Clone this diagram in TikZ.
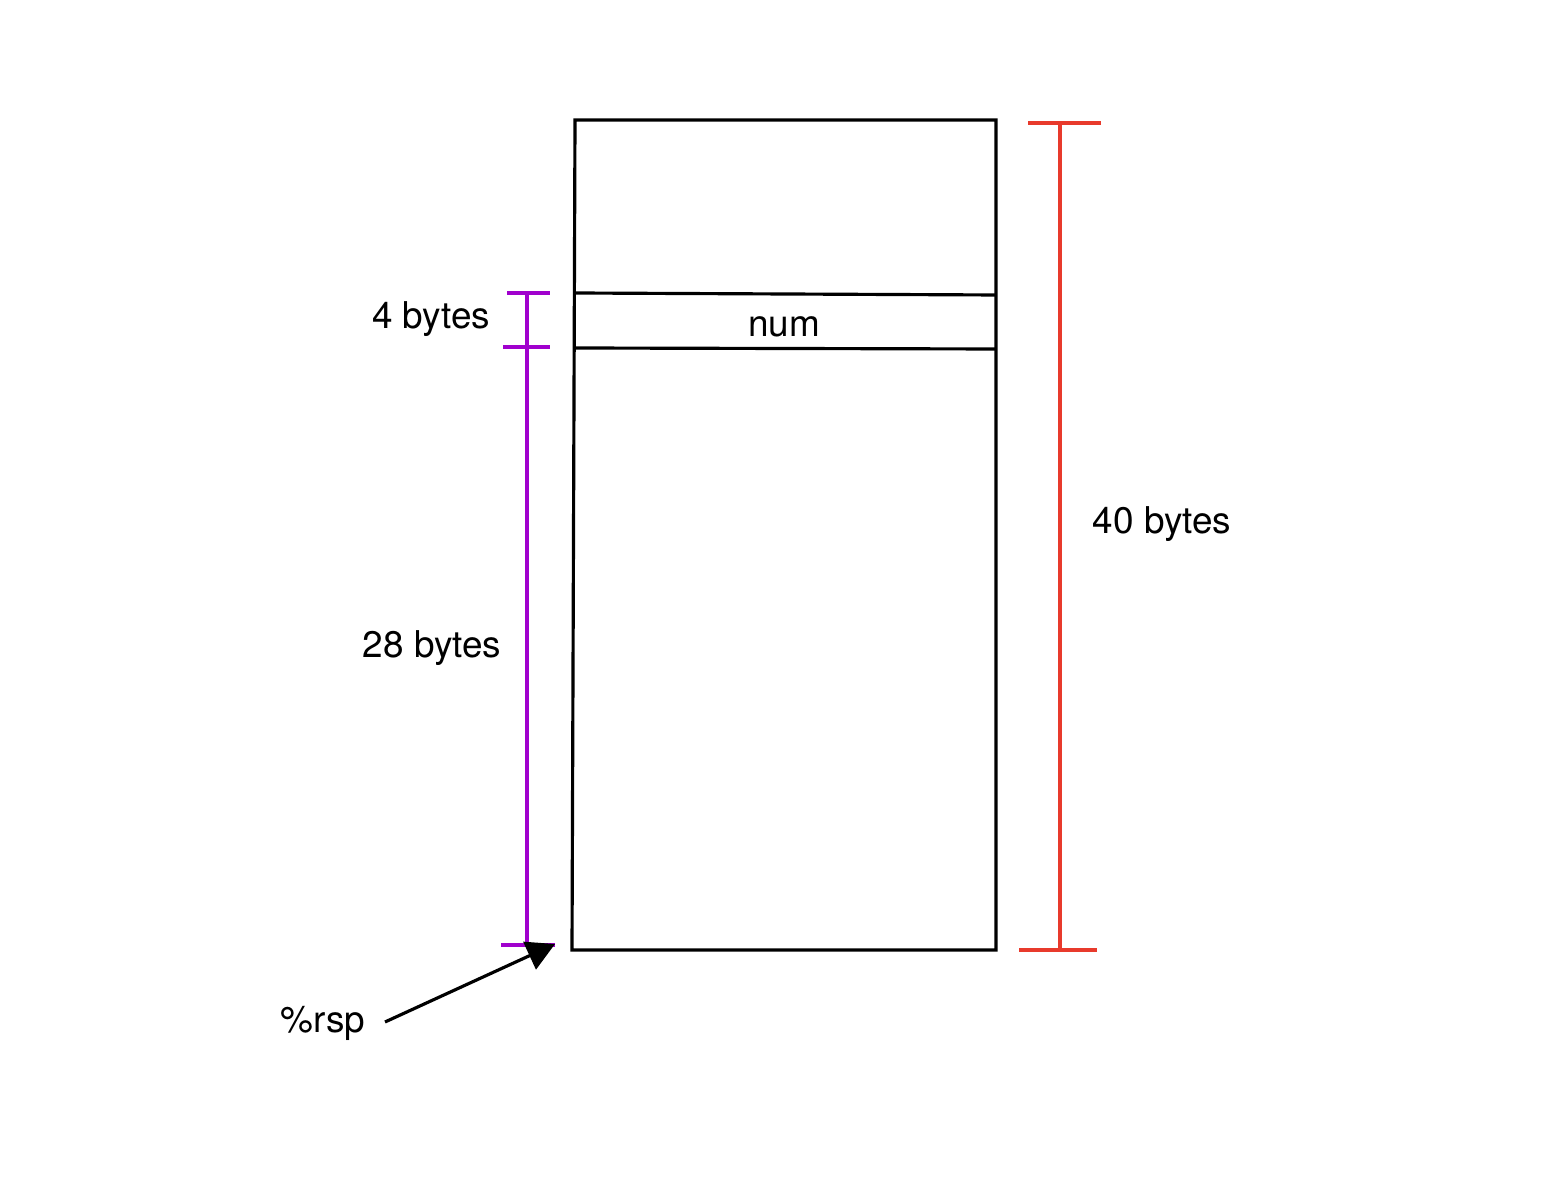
\documentclass[tikz,border=0pt]{standalone}
\usepackage{fontspec}
\setmainfont{TeX Gyre Heros}
\usetikzlibrary{arrows.meta}
\definecolor{sizepurple}{RGB}{160,0,205}
\definecolor{sizered}{RGB}{232,58,44}
\tikzset{
  stackline/.style={line width=0.9pt, black},
  purplebar/.style={line width=1.05pt, sizepurple},
  redbar/.style={line width=1.05pt, sizered},
  sizelabel/.style={font=\fontsize{10.5}{12}\selectfont, inner sep=0pt}
}
\begin{document}
\begin{tikzpicture}[x=0.01cm,y=-0.01cm]
	\useasboundingbox (0,0) rectangle (1560,1198);
	%%%%% frame %%%%%
	\coordinate (tl) at (575,120);
	\coordinate (tr) at (996,120);
	\coordinate (br) at (996,950);
	\coordinate (bl) at (572,950);
	\draw[stackline] (tl) -- (tr) -- (br) -- (bl) -- cycle;
	
	\coordinate (numtl) at (575,293);
	\coordinate (numtr) at (996,295);
	\coordinate (numbl) at (575,348);
	\coordinate (numbr) at (996,349);
	\draw[stackline] (numtl) -- (numtr);
	\draw[stackline] (numbl) -- (numbr);
	\node[sizelabel] (num) at (784,327) {num};
	
	%%%%% purple sizes %%%%%
	\draw[purplebar] (527,293) -- (527,945);
	\draw[purplebar] (507,293) -- (550,293);
	\draw[purplebar] (503,347) -- (550,347);
	\draw[purplebar] (501,945) -- (555,945);
	\node[sizelabel] (four) at (431,319) {4 bytes};
	\node[sizelabel] (twentyeight) at (432,648) {28 bytes};
	
	%%%%% red size %%%%%
	\draw[redbar] (1060,123) -- (1060,950);
	\draw[redbar] (1028,123) -- (1101,123);
	\draw[redbar] (1019,950) -- (1097,950);
	\node[sizelabel] (forty) at (1162,524) {40 bytes};
	
	%%%%% stack pointer %%%%%
	\node[sizelabel] (rsp) at (323,1023) {\%rsp};
	\coordinate (rsptail) at (385,1022);
	\coordinate (rsptip) at (555,944);
	\draw[stackline, -{Triangle[length=0.28cm,width=0.3cm]}] (rsptail) -- (rsptip);
\end{tikzpicture}
\end{document}
